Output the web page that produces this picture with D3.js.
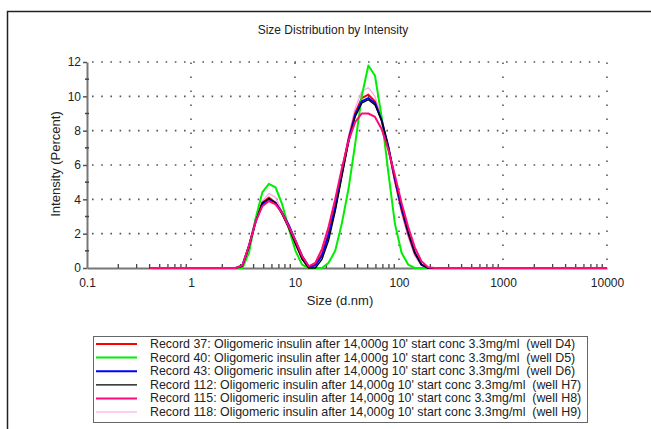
<!DOCTYPE html>
<html>
<head>
<meta charset="utf-8">
<script src="https://cdn.jsdelivr.net/npm/d3@7"></script>
<style>
	html, body { margin: 0; padding: 0; background: #fff; }
	svg text { font-family: "Liberation Sans", Arial, sans-serif; fill: #222; }
</style>
</head>
<body>
<svg id="chart" width="651" height="429"></svg>
<script>
// Size bins of the instrument (d.nm), 70 classes from 0.4 to 10000
const sizes = [0.4, 0.4632, 0.5365, 0.6213, 0.7195, 0.8332, 0.9649, 1.117, 1.294, 1.499,
	1.736, 2.01, 2.328, 2.696, 3.122, 3.615, 4.187, 4.849, 5.615, 6.503,
	7.531, 8.721, 10.1, 11.7, 13.54, 15.69, 18.17, 21.04, 24.36, 28.21,
	32.67, 37.84, 43.82, 50.75, 58.77, 68.06, 78.82, 91.28, 105.7, 122.4,
	141.8, 164.2, 190.1, 220.2, 255, 295.3, 342, 396.1, 458.7, 531.2,
	615.1, 712.4, 825, 955.4, 1106, 1281, 1484, 1718, 1990, 2305,
	2669, 3091, 3580, 4145, 4801, 5560, 6439, 7456, 8635, 10000]

// Intensity (%) per size bin
const record37 = [0, 0, 0, 0, 0, 0, 0, 0, 0, 0,
	0, 0, 0, 0, 0.1, 1.3, 2.8, 3.8, 4.1, 3.8,
	3.2, 2.4, 1.5, 0.6, 0, 0.2, 0.8, 2.0, 3.6, 5.6,
	7.5, 9.0, 9.9, 10.1, 9.7, 8.6, 7.0, 5.1, 3.4, 2.0,
	0.85, 0.2, 0, 0, 0, 0, 0, 0, 0, 0,
	0, 0, 0, 0, 0, 0, 0, 0, 0, 0,
	0, 0, 0, 0, 0, 0, 0, 0, 0, 0]
const record40 = [0, 0, 0, 0, 0, 0, 0, 0, 0, 0,
	0, 0, 0, 0, 0, 0.9, 2.9, 4.4, 4.9, 4.7,
	3.7, 2.3, 1.0, 0.2, 0, 0, 0, 0.3, 1.0, 2.6,
	4.6, 7.2, 10.0, 11.8, 11.2, 8.8, 5.6, 2.6, 0.9, 0.2,
	0, 0, 0, 0, 0, 0, 0, 0, 0, 0,
	0, 0, 0, 0, 0, 0, 0, 0, 0, 0,
	0, 0, 0, 0, 0, 0, 0, 0, 0, 0]
const record43 = [0, 0, 0, 0, 0, 0, 0, 0, 0, 0,
	0, 0, 0, 0, 0.15, 1.3, 2.7, 3.7, 4.0, 3.8,
	3.2, 2.5, 1.6, 0.7, 0.1, 0.15, 0.7, 1.9, 3.5, 5.5,
	7.4, 8.9, 9.7, 9.9, 9.6, 8.6, 7.1, 5.2, 3.5, 2.1,
	0.9, 0.2, 0, 0, 0, 0, 0, 0, 0, 0,
	0, 0, 0, 0, 0, 0, 0, 0, 0, 0,
	0, 0, 0, 0, 0, 0, 0, 0, 0, 0]
const record112 = [0, 0, 0, 0, 0, 0, 0, 0, 0, 0,
	0, 0, 0, 0, 0.1, 1.2, 2.7, 3.8, 4.05, 3.8,
	3.1, 2.3, 1.4, 0.5, 0, 0, 0.5, 1.6, 3.3, 5.3,
	7.3, 8.8, 9.6, 9.8, 9.5, 8.6, 7.1, 5.3, 3.6, 2.1,
	0.9, 0.2, 0, 0, 0, 0, 0, 0, 0, 0,
	0, 0, 0, 0, 0, 0, 0, 0, 0, 0,
	0, 0, 0, 0, 0, 0, 0, 0, 0, 0]
const record115 = [0, 0, 0, 0, 0, 0, 0, 0, 0, 0,
	0, 0, 0, 0, 0.15, 1.3, 2.7, 3.6, 3.9, 3.7,
	3.2, 2.4, 1.6, 0.7, 0.1, 0.3, 1.1, 2.4, 4.0, 5.8,
	7.4, 8.5, 9.0, 9.0, 8.8, 8.1, 6.9, 5.4, 3.8, 2.4,
	1.2, 0.4, 0.05, 0, 0, 0, 0, 0, 0, 0,
	0, 0, 0, 0, 0, 0, 0, 0, 0, 0,
	0, 0, 0, 0, 0, 0, 0, 0, 0, 0]
const record118 = [0, 0, 0, 0, 0, 0, 0, 0, 0, 0,
	0, 0, 0, 0, 0.1, 1.2, 2.8, 3.9, 4.35, 4.1,
	3.3, 2.3, 1.3, 0.5, 0.05, 0.2, 0.9, 2.1, 3.7, 5.7,
	7.7, 9.3, 10.3, 10.5, 10.0, 8.8, 7.0, 5.0, 3.2, 1.8,
	0.7, 0.15, 0, 0, 0, 0, 0, 0, 0, 0,
	0, 0, 0, 0, 0, 0, 0, 0, 0, 0,
	0, 0, 0, 0, 0, 0, 0, 0, 0, 0]

const legendLabels = [
	"Record 37: Oligomeric insulin after 14,000g 10' start conc 3.3mg/ml  (well D4)",
	"Record 40: Oligomeric insulin after 14,000g 10' start conc 3.3mg/ml  (well D5)",
	"Record 43: Oligomeric insulin after 14,000g 10' start conc 3.3mg/ml  (well D6)",
	"Record 112: Oligomeric insulin after 14,000g 10' start conc 3.3mg/ml  (well H7)",
	"Record 115: Oligomeric insulin after 14,000g 10' start conc 3.3mg/ml  (well H8)",
	"Record 118: Oligomeric insulin after 14,000g 10' start conc 3.3mg/ml  (well H9)"
]

const yTicks = [0, 2, 4, 6, 8, 10, 12]
const xTicks = [0.1, 1, 10, 100, 1000, 10000]
const xTickLabels = ["0.1", "1", "10", "100", "1000", "10000"]

const chartTitle = "Size Distribution by Intensity"
const xTitle = "Size (d.nm)"
const yTitle = "Intensity (Percent)"

;(function() {
	let svg = d3.select("#chart")
	let series = [record37, record40, record43, record112, record115, record118]
	let styles = [
		{ color: "#ff0000", width: 2 },
		{ color: "#00ee00", width: 2 },
		{ color: "#0000ff", width: 2 },
		{ color: "#000000", width: 1.3 },
		{ color: "#ff0a78", width: 2 },
		{ color: "#ff9cf4", width: 1.2 }
	]

	let x = d3.scaleLog().domain([0.1, 10000]).range([87, 607])
	let y = d3.scaleLinear().domain([0, 12]).range([268, 62])

	drawFrame(svg)
	drawGrid(svg, x, y)
	drawAxes(svg, x, y)

	// draw light pink first so the magenta one stays on top of the baseline
	let order = [5, 0, 1, 2, 3, 4]
	order.forEach(i => {
		let pts = sizes.map((s, j) => [s, series[i][j]])
		svg.append("path")
			.datum(pts)
			.attr("fill", "none")
			.attr("stroke", styles[i].color)
			.attr("stroke-width", styles[i].width)
			.attr("stroke-linejoin", "round")
			.attr("d", d3.line()
				.x(d => x(d[0]))
				.y(d => y(d[1]))
			)
	})

	drawLegend(svg, legendLabels, styles)
})();

/**
 * Outer border of the picture, only left and top edges are visible.
 */
function drawFrame(svg) {
	svg.append("path")
		.attr("d", "M7.5,429V11.5H651")
		.attr("fill", "none")
		.attr("stroke", "#222")
		.attr("stroke-width", 1.5)

	svg.append("text")
		.attr("x", 333)
		.attr("y", 34)
		.attr("text-anchor", "middle")
		.attr("font-size", 12)
		.text(chartTitle)
}

/**
 * Dotted grid at the major ticks.
 */
function drawGrid(svg, x, y) {
	let g = svg.append("g").attr("class", "grid")
	g.selectAll("line.h")
		.data(yTicks.filter(v => v > 0))
		.join("line")
		.attr("class", "h")
		.attr("x1", x(0.1)).attr("x2", x(10000))
		.attr("y1", d => y(d)).attr("y2", d => y(d))
		.attr("stroke", "#555")
		.attr("stroke-width", 1.6)
		.attr("stroke-dasharray", "1.6,7.6")
		.attr("stroke-dashoffset", -5)

	g.selectAll("line.v")
		.data(xTicks.filter(v => v > 0.1))
		.join("line")
		.attr("class", "v")
		.attr("x1", d => x(d)).attr("x2", d => x(d))
		.attr("y1", y(0)).attr("y2", y(12))
		.attr("stroke", "#555")
		.attr("stroke-width", 1.6)
		.attr("stroke-dasharray", "1.6,12.4")
		.attr("stroke-dashoffset", -8)
}

/**
 * Axes with major labels and small minor ticks.
 */
function drawAxes(svg, x, y) {
	let yAxis = svg.append("g")
		.attr("transform", `translate(${x(0.1)}, 0)`)
		.call(d3.axisLeft(y).tickValues(yTicks).tickSizeInner(4).tickSizeOuter(0).tickPadding(2))
	yAxis.select(".domain").attr("stroke", "#777").attr("stroke-width", 2)
	yAxis.selectAll(".tick line").attr("stroke", "#555").attr("stroke-width", 1.5)
	yAxis.selectAll("text").attr("font-size", 12).attr("fill", "#222")

	let yMinor = d3.range(1, 12, 2)
	svg.append("g").selectAll("line")
		.data(yMinor)
		.join("line")
		.attr("x1", x(0.1) - 2).attr("x2", x(0.1) + 2)
		.attr("y1", d => y(d)).attr("y2", d => y(d))
		.attr("stroke", "#444")
		.attr("stroke-width", 1.5)

	let xAxis = svg.append("g")
		.attr("transform", `translate(0, ${y(0)})`)
		.call(d3.axisBottom(x).tickValues(xTicks).tickSize(0).tickPadding(10)
			.tickFormat((d, i) => xTickLabels[i]))
	xAxis.select(".domain").attr("stroke", "#777").attr("stroke-width", 2)
	xAxis.selectAll("text").attr("font-size", 12).attr("fill", "#222")

	let xMinor = []
	xTicks.slice(0, -1).forEach(t => {
		for (let m = 2; m <= 9; m++) xMinor.push(t * m)
	})
	svg.append("g").selectAll("line")
		.data(xMinor)
		.join("line")
		.attr("x1", d => x(d)).attr("x2", d => x(d))
		.attr("y1", y(0)).attr("y2", y(0) - 4)
		.attr("stroke", "#444")
		.attr("stroke-width", 1.3)

	svg.append("text")
		.attr("transform", `translate(60, 164) rotate(-90)`)
		.attr("text-anchor", "middle")
		.attr("font-size", 13)
		.text(yTitle)

	svg.append("text")
		.attr("x", 340)
		.attr("y", 305)
		.attr("text-anchor", "middle")
		.attr("font-size", 13)
		.text(xTitle)
}

/**
 * Boxed legend under the plot, one row per record.
 */
function drawLegend(svg, labels, styles) {
	let lg = svg.append("g")
	lg.append("rect")
		.attr("x", 93.5).attr("y", 336.5)
		.attr("width", 494).attr("height", 86)
		.attr("fill", "#fff")
		.attr("stroke", "#666")

	labels.forEach((label, i) => {
		let cy = 344 + i * 13.6
		lg.append("line")
			.attr("x1", 96).attr("x2", 137)
			.attr("y1", cy).attr("y2", cy)
			.attr("stroke", styles[i].color)
			.attr("stroke-width", styles[i].width)
		lg.append("text")
			.attr("x", 150)
			.attr("y", cy + 4)
			.attr("font-size", 12.4)
			.style("white-space", "pre")
			.text(label)
	})
}
</script>
</body>
</html>
